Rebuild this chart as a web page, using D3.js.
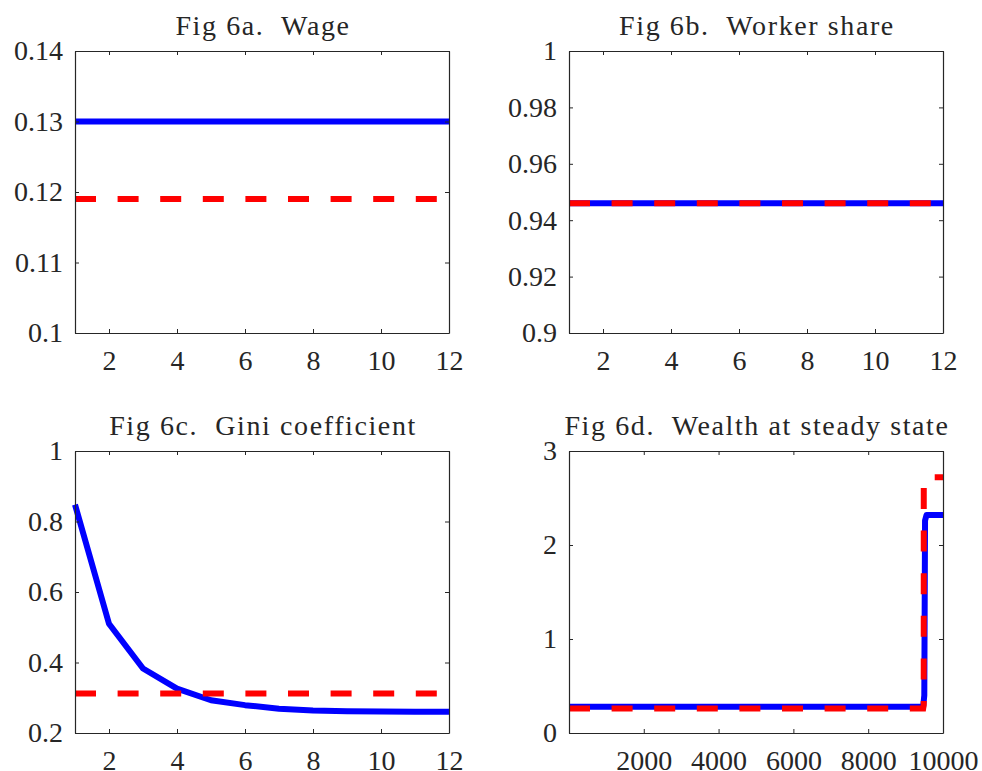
<!DOCTYPE html>
<html>
<head>
<meta charset="utf-8">
<script src="https://cdn.jsdelivr.net/npm/d3@7"></script>
<style>
  body { margin: 0; background: #fff; }
</style>
</head>
<body>
<div id="chart"></div>
<script>

// periods 1..12 for panels a-c
const periods = [1, 2, 3, 4, 5, 6, 7, 8, 9, 10, 11, 12];

// Fig 6a. Wage
const wageBlue = [0.13, 0.13, 0.13, 0.13, 0.13, 0.13, 0.13, 0.13, 0.13, 0.13, 0.13, 0.13];
const wageRed  = [0.119, 0.119, 0.119, 0.119, 0.119, 0.119, 0.119, 0.119, 0.119, 0.119, 0.119, 0.119];

// Fig 6b. Worker share
const shareBlue = [0.946, 0.946, 0.946, 0.946, 0.946, 0.946, 0.946, 0.946, 0.946, 0.946, 0.946, 0.946];
const shareRed  = [0.946, 0.946, 0.946, 0.946, 0.946, 0.946, 0.946, 0.946, 0.946, 0.946, 0.946, 0.946];

// Fig 6c. Gini coefficient
const giniBlue = [0.848, 0.510, 0.383, 0.326, 0.293, 0.279, 0.269, 0.264, 0.262, 0.261, 0.260, 0.260];
const giniRed  = [0.312, 0.312, 0.312, 0.312, 0.312, 0.312, 0.312, 0.312, 0.312, 0.312, 0.312, 0.312];

// Fig 6d. Wealth at steady state (sorted agents, step near the top)
const wealthBlueX = [1, 9470, 9500, 9520, 9560, 10000];
const wealthBlueY = [0.28, 0.28, 0.40, 2.26, 2.32, 2.32];
const wealthRedX  = [1, 9470, 9485, 9486, 10000];
const wealthRedY  = [0.26, 0.26, 0.30, 2.72, 2.72];

// tick values
const xTicksPeriod = [2, 4, 6, 8, 10, 12];
const xTicksWealth = [2000, 4000, 6000, 8000, 10000];
const yTicksWage   = [0.1, 0.11, 0.12, 0.13, 0.14];
const yTicksShare  = [0.9, 0.92, 0.94, 0.96, 0.98, 1];
const yTicksGini   = [0.2, 0.4, 0.6, 0.8, 1];
const yTicksWealth = [0, 1, 2, 3];

const width = 982;
const height = 771;
const textColor = "#262626";
const fontSize = 28;
const fontFamily = "'Liberation Serif', 'DejaVu Serif', 'Noto Serif', serif";
const tickLen = 4;

const panels = [
  { title: "Fig 6a.\u00a0 Wage", box: [75, 51, 449, 333],
    xDomain: [1, 12], yDomain: [0.1, 0.14], xTicks: xTicksPeriod, yTicks: yTicksWage,
    blue: { x: periods, y: wageBlue }, red: { x: periods, y: wageRed } },
  { title: "Fig 6b.\u00a0 Worker share", box: [569, 51, 943, 333],
    xDomain: [1, 12], yDomain: [0.9, 1], xTicks: xTicksPeriod, yTicks: yTicksShare,
    blue: { x: periods, y: shareBlue }, red: { x: periods, y: shareRed } },
  { title: "Fig 6c.\u00a0 Gini coefficient", box: [75, 451, 449, 733],
    xDomain: [1, 12], yDomain: [0.2, 1], xTicks: xTicksPeriod, yTicks: yTicksGini,
    blue: { x: periods, y: giniBlue }, red: { x: periods, y: giniRed } },
  { title: "Fig 6d.\u00a0 Wealth at steady state", box: [569, 451, 943, 733],
    xDomain: [1, 10000], yDomain: [0, 3], xTicks: xTicksWealth, yTicks: yTicksWealth,
    blue: { x: wealthBlueX, y: wealthBlueY }, red: { x: wealthRedX, y: wealthRedY } }
];

const svg = d3.select("#chart").append("svg")
  .attr("width", width)
  .attr("height", height)
  .attr("font-family", fontFamily)
  .style("display", "block");

svg.append("rect").attr("width", width).attr("height", height).attr("fill", "#fff");

const fmt = d3.format("~g");

panels.forEach(p => {
  const [x0, y0, x1, y1] = p.box;
  const x = d3.scaleLinear().domain(p.xDomain).range([x0, x1]);
  const y = d3.scaleLinear().domain(p.yDomain).range([y1, y0]);

  const g = svg.append("g");

  const line = d3.line()
    .x(d => x(d[0]))
    .y(d => y(d[1]));

  // blue solid first, red dashed on top
  g.append("path")
    .datum(p.blue.x.map((v, i) => [v, p.blue.y[i]]))
    .attr("fill", "none")
    .attr("stroke", "#0000ff")
    .attr("stroke-width", 6)
    .attr("stroke-linejoin", "round")
    .attr("d", line);

  g.append("path")
    .datum(p.red.x.map((v, i) => [v, p.red.y[i]]))
    .attr("fill", "none")
    .attr("stroke", "#ff0000")
    .attr("stroke-width", 6)
    .attr("stroke-dasharray", "21,21.6")
    .attr("d", line);

  // axes with inward ticks, MATLAB style box
  const bottom = d3.axisBottom(x).tickValues(p.xTicks).tickSizeInner(-tickLen).tickSizeOuter(0).tickPadding(17).tickFormat(fmt);
  const top = d3.axisTop(x).tickValues(p.xTicks).tickSizeInner(-tickLen).tickSizeOuter(0).tickFormat("");
  const left = d3.axisLeft(y).tickValues(p.yTicks).tickSizeInner(-tickLen).tickSizeOuter(0).tickPadding(12).tickFormat(fmt);
  const right = d3.axisRight(y).tickValues(p.yTicks).tickSizeInner(-tickLen).tickSizeOuter(0).tickFormat("");

  g.append("g").attr("transform", `translate(0,${y1})`).call(bottom);
  g.append("g").attr("transform", `translate(0,${y0})`).call(top);
  g.append("g").attr("transform", `translate(${x0},0)`).call(left);
  g.append("g").attr("transform", `translate(${x1},0)`).call(right);

  // d3 axes set their own font; put the serif back
  g.selectAll("g").attr("font-family", fontFamily).attr("font-size", fontSize);
  g.selectAll(".domain").attr("stroke", textColor).attr("stroke-width", 1.2);
  g.selectAll(".tick line").attr("stroke", textColor);
  g.selectAll(".tick text").attr("fill", textColor);

  // titles: a touch of spacing to get closer to the LaTeX font width
  g.append("text")
    .attr("x", (x0 + x1) / 2 + 1)
    .attr("y", y0 - 16)
    .attr("text-anchor", "middle")
    .attr("fill", textColor)
    .attr("font-size", fontSize)
    .attr("letter-spacing", "1.6px")
    .text(p.title);
});

</script>
</body>
</html>
